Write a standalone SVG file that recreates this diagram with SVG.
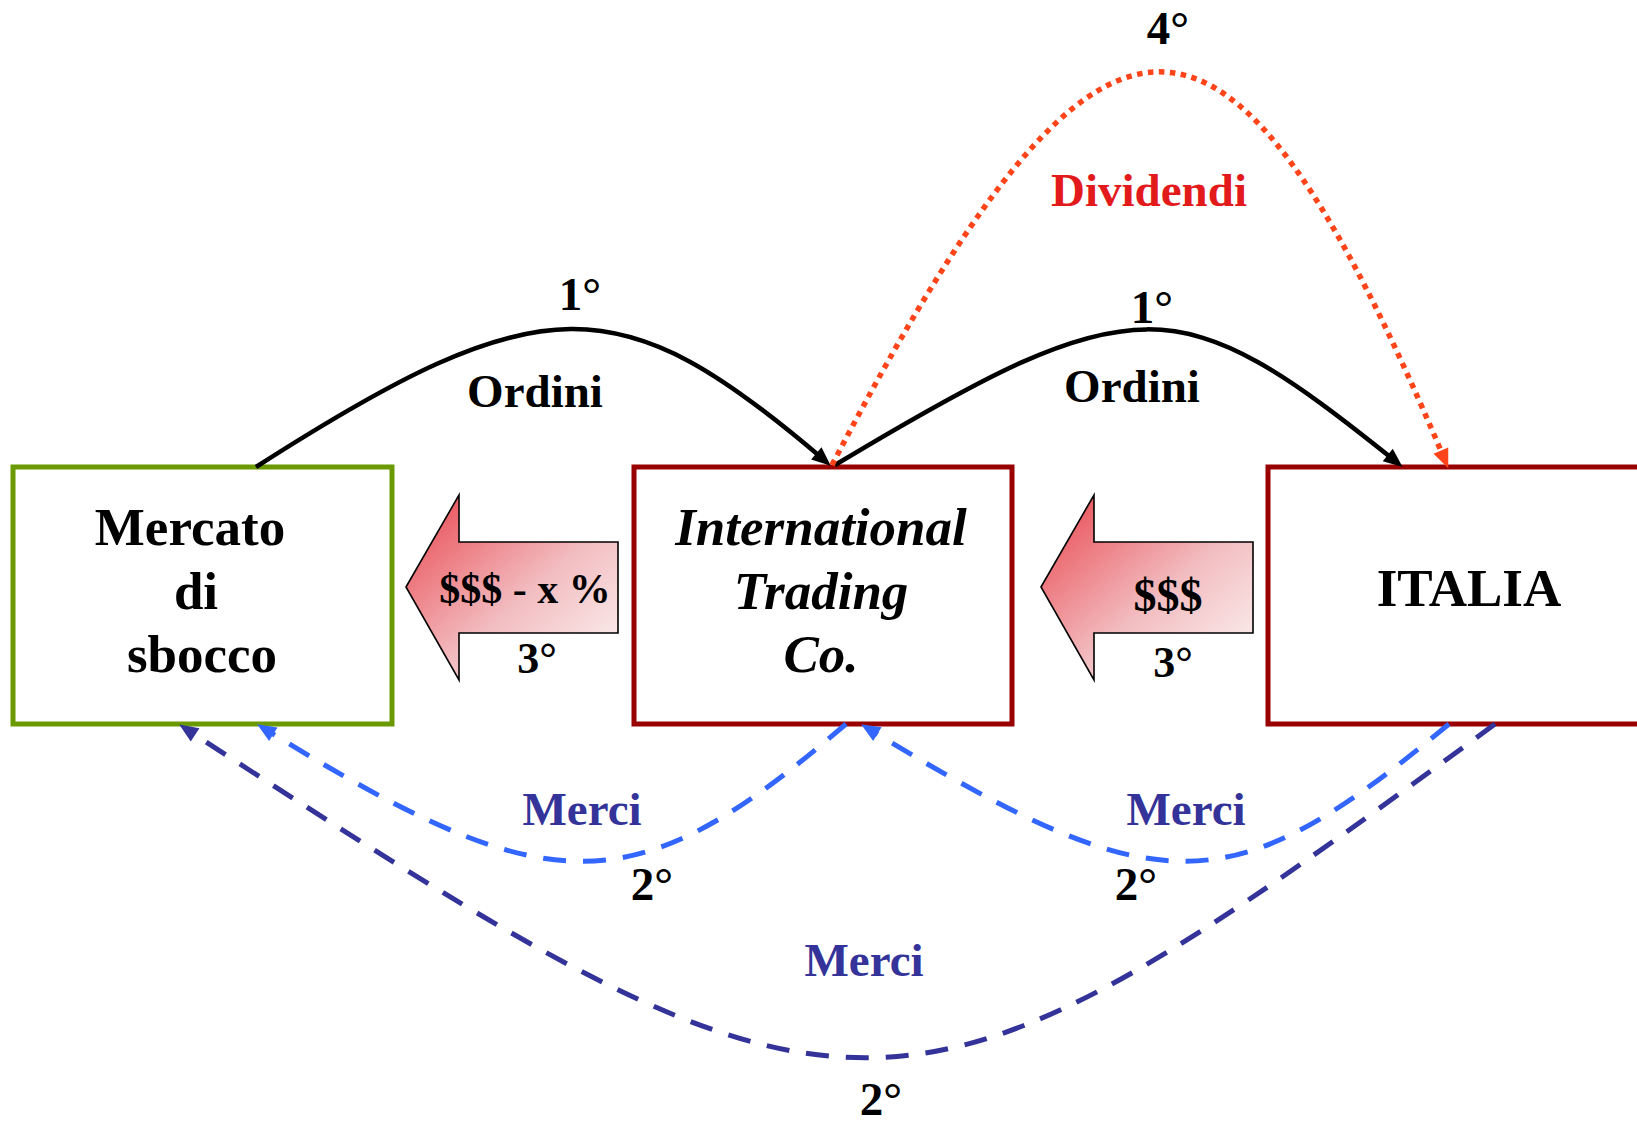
<svg xmlns="http://www.w3.org/2000/svg" width="1637" height="1122" viewBox="0 0 1637 1122">
<style>
.t{font-family:"Liberation Serif","Times New Roman",serif;font-weight:bold;text-anchor:middle}
.big{font-size:53px}
.lbl{font-size:47px}
.box{fill:#fff;stroke-width:5}
.blk{fill:none;stroke:#000;stroke-width:4.5}
.dot{fill:none;stroke:#ff4419;stroke-width:5.5;stroke-dasharray:5.5 5.5}
.lb{fill:none;stroke:#3366ff;stroke-width:5;stroke-dasharray:23 17}
.db{fill:none;stroke:#333399;stroke-width:5;stroke-dasharray:23 17}
.barrow{stroke:#000;stroke-width:1.6;fill:url(#grad)}
</style>
<defs>
<linearGradient id="grad" x1="0" y1="0" x2="1" y2="1">
<stop offset="0" stop-color="#e8424a"/>
<stop offset="0.55" stop-color="#f2bcc0"/>
<stop offset="1" stop-color="#fdf8f6"/>
</linearGradient>
<marker id="aK" markerUnits="userSpaceOnUse" markerWidth="20" markerHeight="16" refX="8" refY="8" orient="auto" overflow="visible"><path d="M0,0 L19,8 L0,16 z" fill="#000"/></marker>
<marker id="aR" markerUnits="userSpaceOnUse" markerWidth="20" markerHeight="16" refX="8" refY="8" orient="auto" overflow="visible"><path d="M0,0 L19,8 L0,16 z" fill="#ff4419"/></marker>
<marker id="aL" markerUnits="userSpaceOnUse" markerWidth="20" markerHeight="16" refX="8" refY="8" orient="auto" overflow="visible"><path d="M0,0 L19,8 L0,16 z" fill="#3366ff"/></marker>
<marker id="aD" markerUnits="userSpaceOnUse" markerWidth="20" markerHeight="16" refX="8" refY="8" orient="auto" overflow="visible"><path d="M0,0 L19,8 L0,16 z" fill="#333399"/></marker>
</defs>
<rect width="1637" height="1122" fill="#fff"/>

<g id="mercato">
<rect class="box" x="13" y="467" width="379" height="257" stroke="#6a9a00"/>
<text class="t big" x="190" y="545">Mercato</text>
<text class="t big" x="196" y="609">di</text>
<text class="t big" x="202" y="672">sbocco</text>
</g>
<g id="itc">
<rect class="box" x="634" y="467" width="378" height="257" stroke="#990000"/>
<text class="t big" x="821" y="545" font-style="italic">International</text>
<text class="t big" x="821" y="609" font-style="italic">Trading</text>
<text class="t big" x="821" y="672" font-style="italic">Co.</text>
</g>
<g id="italia">
<rect class="box" x="1268" y="467" width="380" height="257" stroke="#990000"/>
<text class="t big" x="1469" y="606">ITALIA</text>
</g>

<g id="pay-left">
<path class="barrow" d="M406,587 L459,495 L459,542 L618,542 L618,633 L459,633 L459,680 z"/>
<text class="t" font-size="42" x="525" y="603">$$$ - x %</text>
<text class="t" font-size="44" x="537" y="673">3°</text>
</g>
<g id="pay-right">
<path class="barrow" d="M1041,587 L1094,495 L1094,542 L1253,542 L1253,633 L1094,633 L1094,680 z"/>
<text class="t" font-size="46" x="1168" y="611">$$$</text>
<text class="t" font-size="44" x="1173" y="677">3°</text>
</g>

<g id="connectors">
<path class="blk" d="M256,467 C543,283 620,286 822.4,458.5" marker-end="url(#aK)"/>
<path class="blk" d="M835,465 C1138,283 1178,287 1394,460" marker-end="url(#aK)"/>
<path class="dot" d="M832,465 C1105,-58 1226,-58 1444,458" marker-end="url(#aR)"/>
<path class="lb" d="M846,724 C634,906 552,906 266.5,730" marker-end="url(#aL)"/>
<path class="lb" d="M1449,724 C1230,906 1160,906 870.5,730" marker-end="url(#aL)"/>
<path class="db" d="M1495,724 C890,1168 861,1168 188.4,730.5" marker-end="url(#aD)"/>
</g>

<g id="labels">
<text class="t lbl" x="580" y="310">1°</text>
<text class="t lbl" x="535" y="407">Ordini</text>
<text class="t lbl" x="1152" y="323">1°</text>
<text class="t lbl" x="1132" y="402">Ordini</text>
<text class="t lbl" x="1168" y="44">4°</text>
<text class="t lbl" x="1149" y="206" fill="#e31a1c">Dividendi</text>
<text class="t lbl" x="582" y="825" fill="#333399">Merci</text>
<text class="t lbl" x="1186" y="825" fill="#333399">Merci</text>
<text class="t lbl" x="864" y="976" fill="#333399">Merci</text>
<text class="t lbl" x="652" y="900">2°</text>
<text class="t lbl" x="1136" y="900">2°</text>
<text class="t lbl" x="881" y="1115">2°</text>
</g>
</svg>
